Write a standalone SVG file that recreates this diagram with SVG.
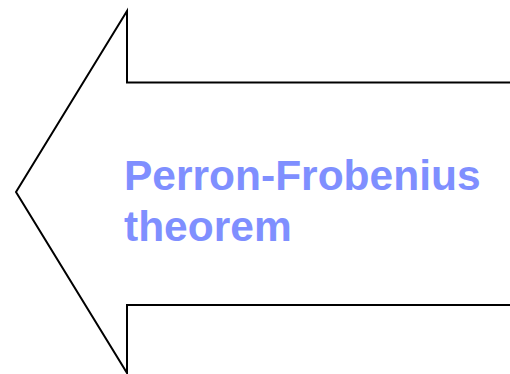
<svg xmlns="http://www.w3.org/2000/svg" width="510" height="374" viewBox="0 0 510 374">
<style>
.shape{fill:#ffffff;stroke:#000000;stroke-width:2;stroke-linejoin:miter}
.lbl{font-family:"Liberation Sans",Arial,sans-serif;font-weight:bold;font-size:42.5px;fill:#7f8fff}
</style>
<rect width="510" height="374" fill="#ffffff"/>
<g id="arrow">
<path class="shape" d="M 16 192 L 127 11 L 127 82.5 L 512 82.5 L 512 305 L 127 305 L 127 373 Z"/>
<text class="lbl" x="124" y="190">Perron-Frobenius</text>
<text class="lbl" x="124" y="240.5">theorem</text>
</g>
</svg>
